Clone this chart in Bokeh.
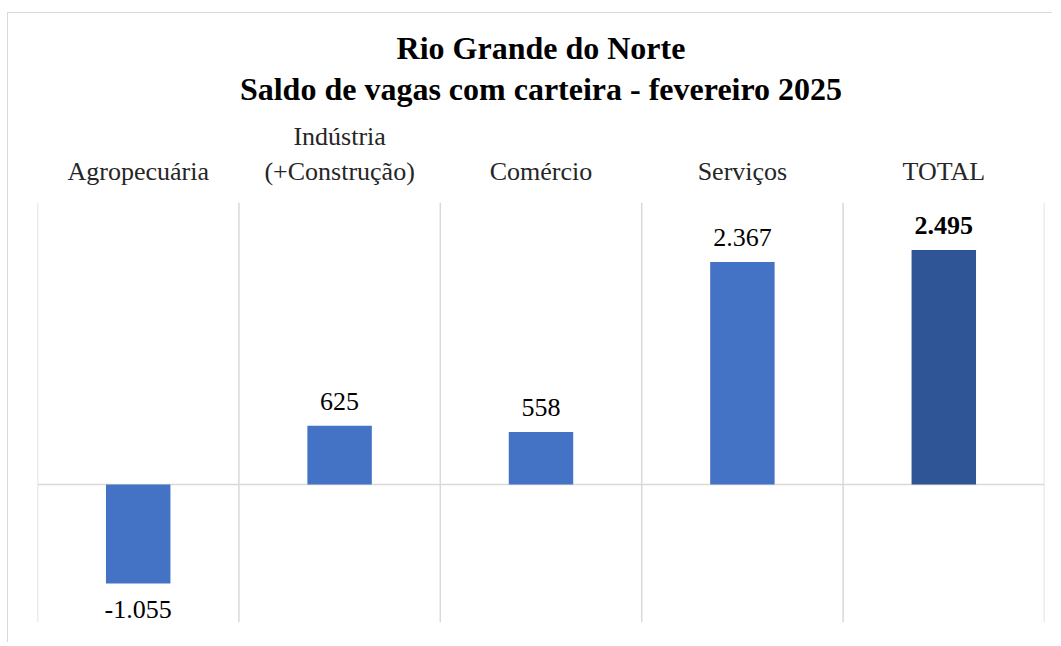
from bokeh.plotting import figure
from bokeh.models import ColumnDataSource, Span, Range1d, FixedTicker, Title
from bokeh.core.properties import value
from bokeh.embed import file_html
from bokeh.resources import INLINE

categories = ["Agropecuária", "Indústria\n(+Construção)", "Comércio", "Serviços", "TOTAL"]
saldo = [-1055, 625, 558, 2367, 2495]

title_lines = ["Rio Grande do Norte", "Saldo de vagas com carteira - fevereiro 2025"]

FONT = "Liberation Serif"
BLUE = "#4472C4"
DARK = "#2F5597"
GRID = "#d9d9d9"


def fmt(v):
    return f"{v:,}".replace(",", ".")


src = ColumnDataSource(dict(
    cat=categories,
    val=saldo,
    label=[fmt(v) for v in saldo],
    color=[DARK if c == "TOTAL" else BLUE for c in categories],
    yoff=[-24 if v >= 0 else 26 for v in saldo],
    fstyle=["bold" if c == "TOTAL" else "normal" for c in categories],
))

p = figure(
    x_range=categories,
    y_range=Range1d(-1470, 3000),
    width=1045, height=630,
    x_axis_location="above", y_axis_location=None,
    output_backend="svg", toolbar_location=None, tools="",
    min_border_left=29, min_border_right=9, min_border_top=189, min_border_bottom=21,
)
p.styles = {"margin-top": "13px", "margin-left": "8px", "box-shadow": "-1px -1px 0 0 #d9d9d9"}

p.title = None
p.add_layout(Title(text="\n".join(title_lines), align="center", text_align="center",
                   text_font=FONT, text_font_size="32px", text_font_style="bold",
                   text_color="black", standoff=23, text_line_height=1.15), "above")

p.outline_line_color = None
p.background_fill_color = "white"
p.border_fill_color = "white"

ax = p.xaxis[0]
ax.axis_line_color = None
ax.major_tick_line_color = None
ax.minor_tick_line_color = None
ax.major_label_text_font = FONT
ax.major_label_text_font_size = "26px"
ax.major_label_text_color = "#262626"
ax.major_label_standoff = 11

p.xgrid.visible = False
p.ygrid.ticker = FixedTicker(ticks=[0])
p.ygrid.grid_line_color = GRID
p.ygrid.grid_line_width = 1.5

for i in range(len(categories) + 1):
    p.add_layout(Span(location=i, dimension="height", line_color=GRID, line_width=1.5, level="underlay"))

p.vbar(x="cat", top="val", bottom=0, width=0.32, fill_color="color", line_color=None, source=src)

p.text(x="cat", y="val", text="label", y_offset="yoff", text_font_style="fstyle",
       text_font=value(FONT), text_font_size="26px", text_color="black",
       text_align="center", text_baseline="alphabetic", source=src)

open("out.html", "w").write(file_html(p, INLINE))
